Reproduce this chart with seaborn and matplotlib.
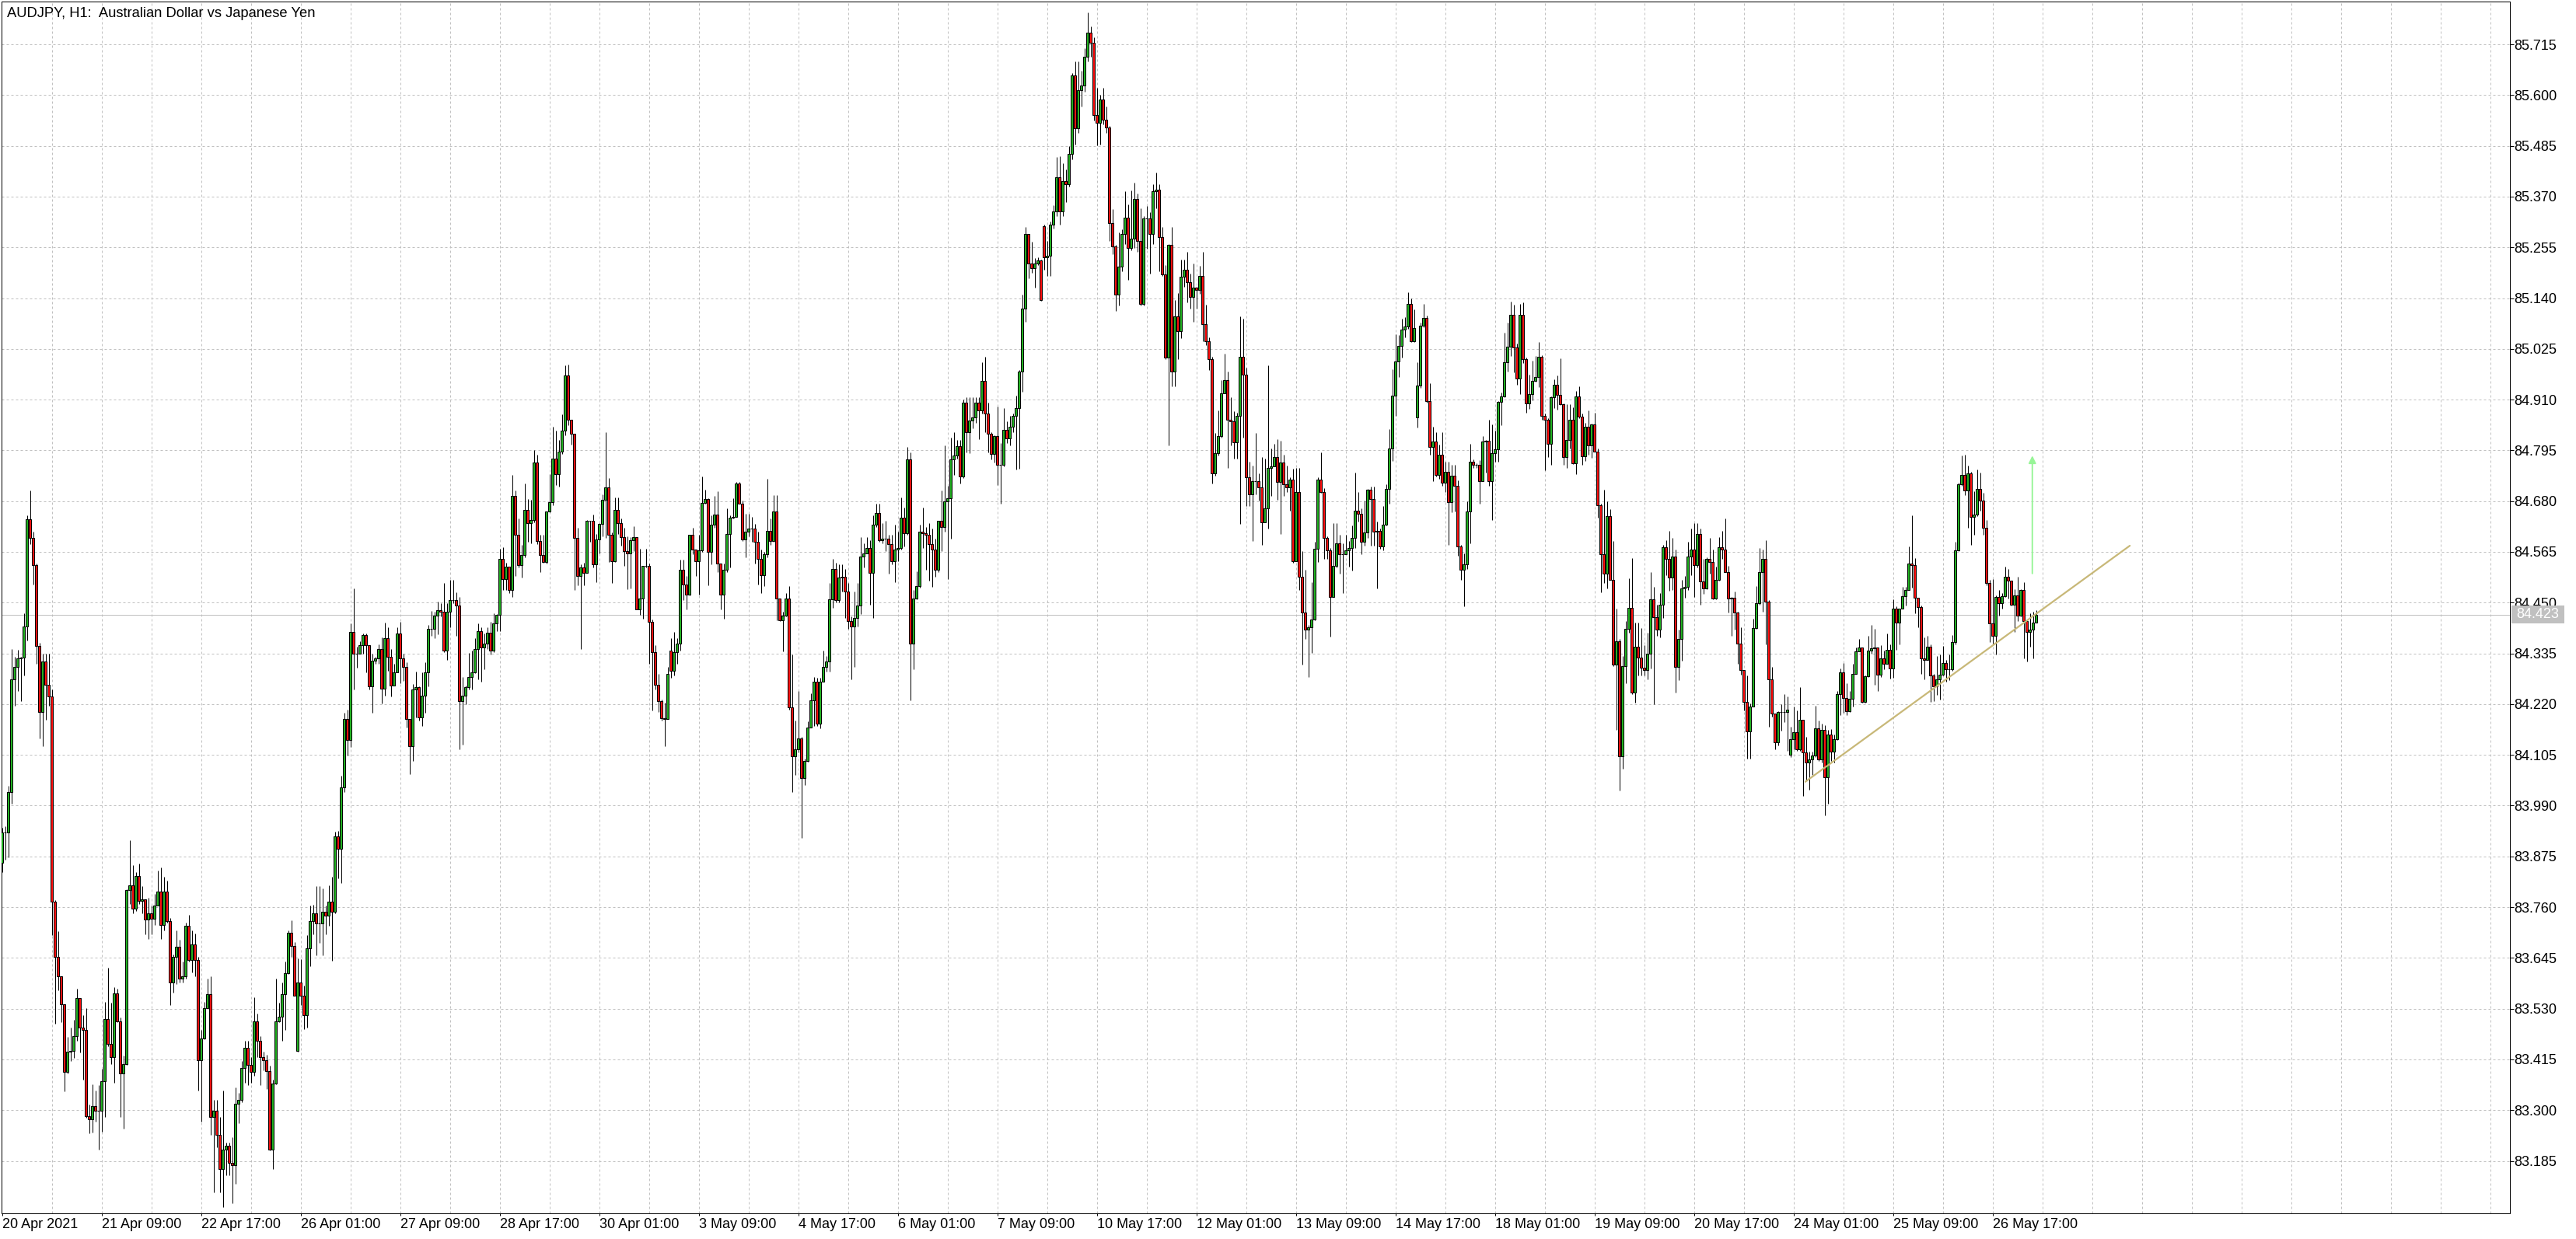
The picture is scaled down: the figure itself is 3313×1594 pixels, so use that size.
"""
AUDJPY H1 蜡烛图 (MT4 风格) 复刻.
价格以 0.001 为单位, 相对 83.000 的偏移量存储.
"""
import numpy as np
import pandas as pd
import seaborn as sns
import matplotlib.pyplot as plt
from matplotlib.patches import Rectangle

# 收盘价 (偏移, 0.001 单位)
closes = [
    930, 929, 1021, 1276, 1304, 1323, 1325, 1396, 1639, 1597,
    1535, 1352, 1202, 1316, 1264, 1237, 772, 648, 604, 540,
    386, 432, 435, 468, 554, 488, 481, 287, 280, 310,
    299, 299, 365, 507, 450, 420, 565, 501, 384, 404,
    798, 809, 757, 831, 774, 778, 732, 746, 733, 763,
    796, 719, 796, 728, 589, 648, 670, 598, 604, 717,
    640, 675, 640, 413, 463, 532, 563, 284, 299, 244,
    167, 211, 219, 181, 176, 315, 323, 395, 442, 402,
    387, 501, 457, 420, 413, 389, 211, 360, 501, 512,
    563, 611, 702, 672, 560, 589, 560, 516, 666, 728,
    746, 724, 724, 749, 741, 772, 750, 920, 892, 1032,
    1186, 1138, 1383, 1334, 1334, 1353, 1376, 1354, 1260, 1318,
    1323, 1345, 1255, 1369, 1328, 1262, 1292, 1380, 1323, 1304,
    1186, 1125, 1254, 1258, 1189, 1239, 1292, 1390, 1390, 1420,
    1433, 1429, 1342, 1430, 1456, 1456, 1443, 1226, 1239, 1258,
    1281, 1292, 1344, 1386, 1348, 1357, 1382, 1342, 1403, 1422,
    1550, 1504, 1531, 1479, 1692, 1604, 1535, 1558, 1660, 1630,
    1637, 1767, 1589, 1558, 1542, 1657, 1678, 1776, 1741, 1793,
    1840, 1964, 1865, 1832, 1596, 1510, 1529, 1518, 1636, 1635,
    1537, 1594, 1628, 1683, 1712, 1603, 1543, 1660, 1630, 1598,
    1567, 1562, 1592, 1598, 1435, 1460, 1533, 1533, 1407, 1338,
    1263, 1226, 1188, 1186, 1289, 1296, 1338, 1357, 1524, 1491,
    1468, 1604, 1571, 1543, 1569, 1676, 1684, 1565, 1627, 1650,
    1539, 1468, 1524, 1605, 1642, 1645, 1720, 1674, 1594, 1611,
    1617, 1617, 1588, 1549, 1512, 1560, 1612, 1590, 1657, 1460,
    1410, 1420, 1460, 1212, 1102, 1117, 1142, 1052, 1092, 1167,
    1229, 1270, 1176, 1270, 1305, 1317, 1457, 1527, 1455, 1506,
    1508, 1476, 1409, 1396, 1415, 1443, 1555, 1561, 1574, 1518,
    1626, 1653, 1592, 1595, 1595, 1582, 1543, 1570, 1574, 1643,
    1607, 1775, 1357, 1460, 1488, 1610, 1608, 1604, 1582, 1570,
    1525, 1635, 1622, 1680, 1687, 1775, 1784, 1805, 1736, 1904,
    1836, 1863, 1869, 1904, 1885, 1953, 1879, 1833, 1787, 1827,
    1763, 1763, 1842, 1822, 1849, 1873, 1891, 1973, 2117, 2286,
    2219, 2207, 2218, 2225, 2136, 2233, 2236, 2307, 2337, 2413,
    2337, 2405, 2398, 2466, 2645, 2524, 2612, 2622, 2686, 2741,
    2719, 2554, 2537, 2590, 2545, 2527, 2310, 2258, 2148, 2211,
    2285, 2323, 2254, 2274, 2365, 2270, 2126, 2321, 2321, 2286,
    2383, 2386, 2279, 2193, 2005, 2260, 1973, 2099, 2065, 2188,
    2205, 2176, 2142, 2164, 2158, 2191, 2081, 2042, 2001, 1742,
    1788, 1828, 1925, 1954, 1865, 1861, 1813, 1873, 2007, 1967,
    1734, 1695, 1726, 1725, 1712, 1632, 1664, 1755, 1758, 1779,
    1724, 1768, 1718, 1711, 1728, 1543, 1701, 1508, 1428, 1389,
    1395, 1412, 1572, 1728, 1701, 1597, 1568, 1463, 1534, 1585,
    1559, 1559, 1569, 1573, 1597, 1658, 1652, 1587, 1609, 1705,
    1685, 1611, 1612, 1578, 1626, 1707, 1799, 1919, 1996, 2032,
    2069, 2076, 2127, 2043, 2072, 1942, 2078, 2095, 1907, 1803,
    1815, 1740, 1785, 1721, 1746, 1677, 1738, 1715, 1577, 1525,
    1536, 1656, 1770, 1763, 1762, 1726, 1815, 1817, 1726, 1789,
    1797, 1905, 1917, 1995, 2030, 2103, 2029, 1958, 2102, 2001,
    1901, 1923, 1952, 1962, 2007, 1873, 1864, 1809, 1916, 1944,
    1920, 1899, 1779, 1819, 1864, 1766, 1917, 1872, 1781, 1848,
    1807, 1854, 1793, 1671, 1559, 1516, 1646, 1501, 1310, 1363,
    1102, 1306, 1391, 1438, 1247, 1350, 1325, 1302, 1297, 1335,
    1457, 1417, 1388, 1445, 1576, 1550, 1507, 1554, 1304, 1368,
    1482, 1485, 1555, 1570, 1535, 1605, 1498, 1482, 1550, 1542,
    1459, 1501, 1576, 1570, 1520, 1460, 1461, 1427, 1357, 1298,
    1225, 1159, 1215, 1392, 1448, 1520, 1550, 1452, 1276, 1198,
    1134, 1202, 1203, 1203, 1208, 1141, 1156, 1117, 1184, 1110,
    1088, 1094, 1103, 1166, 1094, 1161, 1055, 1151, 1112, 1141,
    1242, 1292, 1233, 1204, 1232, 1288, 1339, 1348, 1225, 1283,
    1342, 1347, 1348, 1286, 1324, 1312, 1343, 1300, 1437, 1405,
    1437, 1464, 1479, 1538, 1535, 1461, 1440, 1323, 1321, 1350,
    1285, 1261, 1276, 1286, 1314, 1299, 1299, 1360, 1569, 1718,
    1740, 1704, 1742, 1644, 1650, 1707, 1681, 1619, 1495, 1403,
    1374, 1463, 1449, 1465, 1508, 1500, 1446, 1466, 1421, 1478,
    1408, 1384, 1388, 1404, 1423,
]

# 最高价
highs = [
    940, 944, 1034, 1345, 1328, 1343, 1328, 1425, 1647, 1704,
    1611, 1538, 1359, 1334, 1334, 1335, 1254, 776, 705, 604,
    540, 466, 488, 505, 576, 554, 516, 532, 313, 359,
    345, 357, 393, 545, 622, 543, 578, 576, 510, 424,
    800, 911, 856, 840, 859, 807, 778, 781, 763, 790,
    843, 850, 829, 820, 736, 653, 708, 686, 637, 725,
    743, 708, 700, 648, 482, 545, 598, 604, 323, 323,
    284, 345, 226, 226, 238, 351, 340, 411, 457, 457,
    420, 556, 519, 468, 433, 426, 400, 369, 598, 543,
    590, 636, 707, 730, 680, 644, 642, 582, 697, 763,
    765, 807, 807, 802, 763, 810, 829, 931, 933, 1057,
    1200, 1208, 1403, 1482, 1350, 1362, 1380, 1380, 1354, 1334,
    1328, 1356, 1372, 1405, 1394, 1345, 1312, 1394, 1407, 1334,
    1315, 1186, 1266, 1294, 1260, 1292, 1315, 1399, 1431, 1430,
    1453, 1448, 1495, 1449, 1502, 1502, 1474, 1462, 1281, 1262,
    1336, 1342, 1369, 1403, 1395, 1380, 1395, 1407, 1426, 1424,
    1572, 1575, 1540, 1531, 1739, 1704, 1640, 1580, 1720, 1684,
    1683, 1795, 1786, 1604, 1603, 1657, 1741, 1849, 1840, 1818,
    1876, 1987, 1990, 1865, 1832, 1619, 1537, 1541, 1638, 1636,
    1649, 1605, 1630, 1695, 1837, 1732, 1609, 1688, 1688, 1640,
    1619, 1600, 1599, 1623, 1598, 1572, 1533, 1572, 1538, 1412,
    1353, 1288, 1231, 1224, 1304, 1369, 1383, 1369, 1548, 1548,
    1510, 1604, 1620, 1571, 1604, 1735, 1705, 1686, 1647, 1691,
    1703, 1539, 1539, 1663, 1648, 1686, 1724, 1724, 1682, 1652,
    1652, 1644, 1628, 1611, 1571, 1565, 1730, 1640, 1693, 1693,
    1460, 1430, 1471, 1488, 1333, 1182, 1249, 1146, 1096, 1181,
    1244, 1281, 1280, 1280, 1341, 1329, 1494, 1549, 1540, 1536,
    1536, 1527, 1494, 1418, 1475, 1494, 1598, 1585, 1598, 1592,
    1647, 1675, 1675, 1631, 1635, 1604, 1604, 1626, 1610, 1689,
    1665, 1803, 1790, 1479, 1521, 1626, 1665, 1622, 1631, 1617,
    1595, 1635, 1704, 1806, 1714, 1824, 1836, 1818, 1818, 1910,
    1916, 1916, 1916, 1916, 1916, 1994, 2007, 1904, 1836, 1830,
    1895, 1812, 1891, 1860, 1873, 1879, 1919, 1977, 2148, 2301,
    2286, 2267, 2230, 2233, 2227, 2307, 2270, 2313, 2350, 2459,
    2461, 2445, 2431, 2484, 2649, 2677, 2677, 2655, 2707, 2787,
    2756, 2731, 2616, 2600, 2616, 2575, 2530, 2341, 2261, 2289,
    2295, 2383, 2353, 2384, 2402, 2377, 2343, 2325, 2349, 2335,
    2398, 2425, 2398, 2301, 2215, 2262, 2302, 2136, 2151, 2227,
    2227, 2245, 2196, 2218, 2166, 2213, 2245, 2125, 2051, 2007,
    1834, 1885, 1954, 2014, 1974, 1915, 1883, 1881, 2099, 2093,
    1983, 1770, 1760, 1835, 1742, 1780, 1776, 1988, 1799, 1809,
    1821, 1816, 1785, 1761, 1734, 1754, 1755, 1755, 1567, 1525,
    1400, 1496, 1587, 1734, 1791, 1710, 1601, 1574, 1630, 1630,
    1604, 1585, 1604, 1589, 1625, 1744, 1701, 1664, 1682, 1707,
    1713, 1713, 1634, 1618, 1669, 1719, 1844, 1978, 2058, 2056,
    2093, 2096, 2153, 2139, 2115, 1995, 2084, 2127, 2101, 1948,
    1849, 1836, 1808, 1836, 1770, 1770, 1762, 1763, 1727, 1580,
    1562, 1680, 1810, 1775, 1766, 1772, 1828, 1819, 1864, 1853,
    1840, 1907, 1926, 2062, 2084, 2132, 2125, 2037, 2127, 2131,
    2005, 1966, 1999, 2009, 2040, 2011, 1878, 1868, 1918, 1956,
    1964, 2003, 1901, 1900, 1899, 1892, 1930, 1940, 1878, 1857,
    1885, 1856, 1880, 1799, 1675, 1705, 1679, 1662, 1589, 1436,
    1367, 1329, 1408, 1505, 1551, 1405, 1405, 1392, 1353, 1381,
    1519, 1486, 1445, 1472, 1581, 1592, 1612, 1596, 1570, 1388,
    1501, 1511, 1587, 1618, 1630, 1631, 1617, 1549, 1552, 1597,
    1570, 1531, 1598, 1613, 1640, 1533, 1462, 1476, 1429, 1394,
    1298, 1285, 1221, 1413, 1488, 1574, 1571, 1591, 1455, 1304,
    1198, 1204, 1219, 1243, 1238, 1169, 1214, 1205, 1258, 1184,
    1145, 1112, 1112, 1217, 1183, 1175, 1172, 1162, 1164, 1151,
    1250, 1300, 1314, 1268, 1250, 1311, 1349, 1367, 1349, 1285,
    1374, 1399, 1391, 1348, 1353, 1341, 1380, 1356, 1458, 1442,
    1437, 1486, 1486, 1577, 1648, 1551, 1461, 1443, 1371, 1374,
    1356, 1288, 1329, 1332, 1352, 1321, 1332, 1376, 1587, 1722,
    1783, 1786, 1760, 1746, 1702, 1751, 1744, 1699, 1637, 1502,
    1503, 1466, 1479, 1472, 1532, 1527, 1500, 1481, 1509, 1480,
    1497, 1408, 1425, 1430, 1433,
]

# 最低价
lows = [
    840, 867, 873, 994, 1216, 1249, 1227, 1285, 1364, 1583,
    1491, 1312, 1142, 1125, 1184, 1216, 697, 496, 571, 499,
    343, 384, 411, 419, 457, 430, 370, 282, 247, 249,
    274, 210, 252, 285, 444, 404, 362, 499, 285, 258,
    403, 768, 746, 751, 768, 746, 699, 688, 699, 719,
    763, 688, 708, 725, 538, 567, 585, 589, 589, 598,
    637, 612, 604, 345, 274, 460, 532, 244, 114, 216,
    114, 81, 152, 152, 89, 134, 271, 318, 362, 356,
    362, 378, 420, 356, 391, 348, 208, 167, 358, 499,
    457, 482, 609, 648, 560, 432, 538, 483, 488, 626,
    699, 651, 679, 651, 699, 717, 639, 746, 826, 815,
    1021, 1103, 1123, 1253, 1302, 1334, 1334, 1292, 1254, 1200,
    1312, 1312, 1222, 1239, 1295, 1238, 1262, 1292, 1268, 1273,
    1167, 1061, 1091, 1190, 1182, 1170, 1200, 1260, 1375, 1370,
    1378, 1418, 1338, 1321, 1395, 1448, 1375, 1117, 1129, 1220,
    1254, 1254, 1290, 1277, 1270, 1299, 1345, 1333, 1338, 1386,
    1386, 1479, 1479, 1471, 1462, 1511, 1529, 1506, 1552, 1588,
    1585, 1632, 1583, 1520, 1540, 1539, 1655, 1670, 1716, 1713,
    1787, 1830, 1852, 1808, 1478, 1490, 1344, 1490, 1518, 1588,
    1529, 1496, 1562, 1600, 1596, 1542, 1495, 1542, 1605, 1579,
    1533, 1480, 1482, 1567, 1434, 1422, 1414, 1530, 1311, 1205,
    1254, 1203, 1183, 1125, 1186, 1279, 1285, 1311, 1342, 1456,
    1435, 1466, 1560, 1510, 1468, 1565, 1674, 1489, 1537, 1620,
    1519, 1435, 1414, 1520, 1529, 1640, 1645, 1674, 1590, 1552,
    1601, 1587, 1539, 1491, 1472, 1488, 1553, 1580, 1588, 1410,
    1408, 1340, 1418, 1208, 1020, 1060, 1110, 916, 1036, 1090,
    1168, 1170, 1170, 1165, 1302, 1293, 1293, 1439, 1451, 1451,
    1476, 1415, 1391, 1277, 1305, 1396, 1424, 1530, 1561, 1445,
    1415, 1622, 1588, 1585, 1567, 1516, 1537, 1497, 1543, 1570,
    1577, 1604, 1228, 1299, 1457, 1484, 1574, 1525, 1500, 1485,
    1509, 1519, 1566, 1610, 1503, 1595, 1739, 1776, 1720, 1733,
    1790, 1788, 1845, 1857, 1820, 1879, 1836, 1790, 1775, 1767,
    1717, 1675, 1758, 1812, 1806, 1836, 1752, 1753, 1928, 2086,
    2185, 2198, 2163, 2215, 2133, 2205, 2191, 2191, 2297, 2325,
    2307, 2325, 2358, 2392, 2454, 2488, 2515, 2575, 2607, 2676,
    2686, 2543, 2486, 2487, 2533, 2515, 2270, 2240, 2111, 2123,
    2200, 2262, 2181, 2249, 2254, 2245, 2124, 2124, 2251, 2195,
    2262, 2343, 2200, 2191, 2002, 1806, 1940, 1940, 2002, 2050,
    2165, 2130, 2117, 2087, 2116, 2150, 2043, 2033, 1977, 1720,
    1738, 1784, 1824, 1925, 1755, 1807, 1777, 1777, 1628, 1823,
    1669, 1669, 1590, 1695, 1681, 1580, 1632, 1618, 1692, 1759,
    1683, 1606, 1692, 1701, 1659, 1540, 1543, 1478, 1310, 1368,
    1281, 1336, 1410, 1542, 1699, 1550, 1550, 1373, 1462, 1530,
    1515, 1471, 1564, 1532, 1523, 1573, 1634, 1559, 1579, 1597,
    1579, 1579, 1482, 1572, 1568, 1624, 1675, 1771, 1873, 1962,
    2006, 2051, 2070, 2041, 2041, 1846, 1936, 2074, 1903, 1785,
    1726, 1736, 1730, 1715, 1700, 1580, 1654, 1656, 1556, 1502,
    1441, 1526, 1584, 1756, 1755, 1675, 1726, 1745, 1714, 1638,
    1770, 1770, 1852, 1915, 1974, 2008, 1971, 1944, 1922, 1993,
    1881, 1889, 1909, 1951, 1938, 1865, 1750, 1779, 1763, 1891,
    1887, 1897, 1763, 1755, 1799, 1764, 1741, 1868, 1762, 1771,
    1785, 1778, 1793, 1643, 1473, 1495, 1482, 1501, 1306, 1162,
    1025, 1074, 1267, 1382, 1243, 1224, 1285, 1285, 1285, 1277,
    1300, 1219, 1375, 1371, 1416, 1513, 1477, 1478, 1247, 1275,
    1318, 1461, 1479, 1513, 1462, 1530, 1445, 1469, 1480, 1516,
    1458, 1458, 1499, 1549, 1520, 1427, 1374, 1388, 1312, 1286,
    1206, 1096, 1096, 1214, 1391, 1446, 1430, 1355, 1168, 1191,
    1118, 1126, 1160, 1180, 1114, 1100, 1117, 1114, 1114, 1012,
    1047, 1026, 1059, 1100, 1091, 1088, 968, 994, 1091, 1088,
    1138, 1196, 1200, 1196, 1202, 1214, 1288, 1342, 1223, 1223,
    1281, 1334, 1264, 1249, 1282, 1299, 1311, 1278, 1280, 1343,
    1356, 1437, 1444, 1479, 1484, 1426, 1394, 1289, 1277, 1321,
    1225, 1226, 1241, 1230, 1285, 1270, 1274, 1296, 1356, 1567,
    1715, 1694, 1619, 1581, 1603, 1646, 1658, 1604, 1489, 1361,
    1358, 1333, 1420, 1437, 1463, 1460, 1444, 1384, 1408, 1419,
    1323, 1317, 1350, 1324, 1404,
]

# 开盘价: 默认等于上一根收盘, 第一根和周一跳空单独给出
first_open = 860
gap_opens = {95: 435, 215: 1342, 335: 2303, 455: 1870, 575: 1106}

# 当前价, 趋势线, 箭头 (K线序号, 价格)
bid_price = 84.423
trend_x = [579.75, 684.1]
trend_y = [84.044, 84.579]
arrow_x = 652.75
arrow_y = [84.516, 84.783]

# 坐标轴刻度
y_ticks = [83.185, 83.300, 83.415, 83.530, 83.645, 83.760, 83.875, 83.990,
           84.105, 84.220, 84.335, 84.450, 84.565, 84.680, 84.795, 84.910,
           85.025, 85.140, 85.255, 85.370, 85.485, 85.600, 85.715]
x_tick_labels = ['20 Apr 2021', '21 Apr 09:00', '22 Apr 17:00', '26 Apr 01:00',
                 '27 Apr 09:00', '28 Apr 17:00', '30 Apr 01:00', '3 May 09:00',
                 '4 May 17:00', '6 May 01:00', '7 May 09:00', '10 May 17:00',
                 '12 May 01:00', '13 May 09:00', '14 May 17:00', '18 May 01:00',
                 '19 May 09:00', '20 May 17:00', '24 May 01:00', '25 May 09:00',
                 '26 May 17:00']

title = 'AUDJPY, H1:  Australian Dollar vs Japanese Yen'

# 1. 整理数据
df = pd.DataFrame({'close': closes, 'high': highs, 'low': lows})
df['open'] = df['close'].shift(1)
df.loc[0, 'open'] = first_open
for k, v in gap_opens.items():
    df.loc[k, 'open'] = v
df = (df + 83000) / 1000.0
df['high'] = df[['high', 'open', 'close']].max(axis=1)
df['low'] = df[['low', 'open', 'close']].min(axis=1)
df['bar'] = np.arange(len(df))
up = df['close'] >= df['open']

# 2. 画布
sns.set_theme(style='white')
plt.rcParams['font.family'] = ['Liberation Sans', 'DejaVu Sans']

W, H = 3313, 1594
fig = plt.figure(figsize=(W / 100, H / 100), dpi=100)
fig.patch.set_facecolor('white')
ax = fig.add_axes([2 / W, 33 / H, 3226 / W, 1559 / H])
ax.set_facecolor('white')

y_lo, y_hi = 83.0662, 85.8119
x_lo, x_hi = -0.175, 806.3
ax.set_xlim(x_lo, x_hi)
ax.set_ylim(y_lo, y_hi)

px = 0.72  # 1 像素对应的磅数
grid_kw = dict(color='#c0c0c0', lw=px, ls=(0, (3, 3)), zorder=0)
for v in y_ticks:
    ax.axhline(v, **grid_kw)
for b in range(16, int(x_hi) + 1, 16):
    ax.axvline(b, **grid_kw)

# 当前价水平线
ax.axhline(bid_price, color='#c0c0c0', lw=px, zorder=1)

# 3. 蜡烛
ax.vlines(df['bar'], df['low'], df['high'], colors='black', lw=px, zorder=2)
body_lo = df[['open', 'close']].min(axis=1)
body_h = (df['close'] - df['open']).abs()
ax.bar(df['bar'], body_h, bottom=body_lo, width=0.8,
       color=np.where(up, '#22b022', '#ff1010'),
       edgecolor='black', linewidth=px, zorder=3)

# 4. 趋势线与箭头
sns.lineplot(x=trend_x, y=trend_y, ax=ax, color='#c8b878', lw=1.6, zorder=4)
ax.annotate('', xy=(arrow_x, arrow_y[1]), xytext=(arrow_x, arrow_y[0]),
            arrowprops=dict(arrowstyle='-|>', color='#98f598', lw=1.4,
                            mutation_scale=14, shrinkA=0, shrinkB=0),
            zorder=4)

# 5. 坐标轴
for s in ax.spines.values():
    s.set_color('black')
    s.set_linewidth(px)
    s.set_visible(True)

ax.yaxis.tick_right()
ax.set_yticks(y_ticks)
ax.set_yticklabels([f'{v:.3f}' for v in y_ticks])
ax.tick_params(axis='y', direction='out', length=3.6, width=px, pad=0.5,
               labelsize=13, colors='black', right=True, left=False)

ax.set_xticks(range(0, 32 * len(x_tick_labels), 32))
ax.set_xticklabels(x_tick_labels, ha='left')
ax.tick_params(axis='x', direction='out', length=2.5, width=px, pad=2,
               labelsize=13, colors='black', bottom=True)
ax.set_xlabel('')
ax.set_ylabel('')

# 当前价标签
frac = (bid_price - y_lo) / (y_hi - y_lo)
y_fig = 33 / H + frac * 1559 / H
fig.patches.append(Rectangle((3230 / W, y_fig - 11.5 / H), 68 / W, 23 / H,
                             transform=fig.transFigure, facecolor='#c0c0c0',
                             edgecolor='none', zorder=10))
fig.text(3264 / W, y_fig, f'{bid_price:.3f}', color='white', fontsize=13,
         ha='center', va='center', zorder=11)

# 标题
fig.text(9 / W, 1 - 22 / H, title, fontsize=13.2, ha='left', va='baseline',
         color='black')

fig.savefig('out.png', dpi=100, facecolor='white')
